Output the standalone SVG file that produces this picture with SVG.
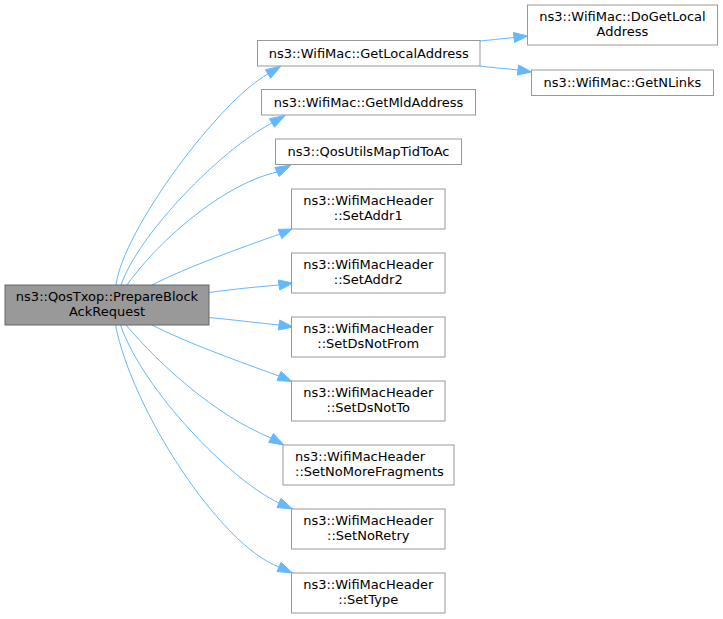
<svg xmlns="http://www.w3.org/2000/svg" width="723" height="619" viewBox="0 0 723 619">
<style>
.n rect{fill:#ffffff;stroke:#999999;stroke-width:1}
.m rect{fill:#999999;stroke:#666666;stroke-width:1}
text{font-family:"DejaVu Sans",sans-serif;font-size:13px;fill:#000000;text-anchor:middle}
.e path{fill:none;stroke:#63b8ff;stroke-width:1}
.e polygon{fill:#63b8ff;stroke:#63b8ff;stroke-width:1}
</style>
<rect x="0" y="0" width="723" height="619" fill="#ffffff"/>
<g id="edges" class="e">
<path d="M116,285 C123,230 220,100 268,74"/><polygon points="281,66 270.6,78.3 265.4,69.8"/>
<path d="M121,285 C138,235 220,150 272,123"/><polygon points="285,115.5 274.5,127.3 269.5,118.7"/>
<path d="M127,285 C155,245 220,185 277,172"/><polygon points="291,165 279.2,176.5 274.8,167.5"/>
<path d="M152,285 C185,268 240,248 280,234"/><polygon points="292,229 281.9,238.6 278.1,229.4"/>
<path d="M209,292.5 C235,289 255,287 279,285"/><polygon points="293,283 279.7,290 278.3,280"/>
<path d="M209,317.5 C235,320 255,322.5 279,325"/><polygon points="293,327 278.3,330 279.7,320"/>
<path d="M152,325 C185,342 240,362 279,376"/><polygon points="292,381.5 277,380.6 281,371.4"/>
<path d="M126,325 C160,365 215,415 271,438"/><polygon points="284,445 268.6,442.4 273.4,433.6"/>
<path d="M120.5,325 C143,390 230,480 279,503"/><polygon points="292.5,509 277,507.6 281,498.4"/>
<path d="M115.5,325 C132,410 220,545 279,567"/><polygon points="292.5,573 277,571.6 281,562.4"/>
<path d="M480,41 C490,40 500,39 514,37.5"/><polygon points="527.5,36 514.55,42.5 513.45,32.5"/>
<path d="M480,66 C490,67.5 505,68.5 518,70"/><polygon points="531.5,72 517.3,75 518.7,65"/>
</g>
<g id="node_main" class="m"><rect x="5" y="285" width="204" height="40"/><text x="107" y="301">ns3::QosTxop::PrepareBlock</text><text x="107" y="316">AckRequest</text></g>
<g id="node_getlocal" class="n"><rect x="257.5" y="40.5" width="222.5" height="25.5"/><text x="368.75" y="57.5">ns3::WifiMac::GetLocalAddress</text></g>
<g id="node_dogetlocal" class="n"><rect x="527.5" y="5" width="190" height="40"/><text x="622.5" y="21">ns3::WifiMac::DoGetLocal</text><text x="622.5" y="36">Address</text></g>
<g id="node_getnlinks" class="n"><rect x="531.5" y="70" width="182" height="25.5"/><text x="622.5" y="87">ns3::WifiMac::GetNLinks</text></g>
<g id="node_getmld" class="n"><rect x="261.5" y="89.5" width="214" height="25.5"/><text x="368.5" y="106.5">ns3::WifiMac::GetMldAddress</text></g>
<g id="node_qosutils" class="n"><rect x="275.5" y="139" width="186" height="25.5"/><text x="368.5" y="156">ns3::QosUtilsMapTidToAc</text></g>
<g id="node_setaddr1" class="n"><rect x="291.5" y="189" width="153.5" height="40"/><text x="368.25" y="205">ns3::WifiMacHeader</text><text x="368.25" y="220">::SetAddr1</text></g>
<g id="node_setaddr2" class="n"><rect x="291.5" y="253" width="153.5" height="40"/><text x="368.25" y="269">ns3::WifiMacHeader</text><text x="368.25" y="284">::SetAddr2</text></g>
<g id="node_setdsnotfrom" class="n"><rect x="291.5" y="317" width="153.5" height="40"/><text x="368.25" y="333">ns3::WifiMacHeader</text><text x="368.25" y="348">::SetDsNotFrom</text></g>
<g id="node_setdsnotto" class="n"><rect x="291.5" y="381" width="153.5" height="40"/><text x="368.25" y="397">ns3::WifiMacHeader</text><text x="368.25" y="412">::SetDsNotTo</text></g>
<g id="node_setnomorefrag" class="n"><rect x="283" y="445" width="171" height="40"/><text x="295" y="461" style="text-anchor:start">ns3::WifiMacHeader</text><text x="295" y="476" style="text-anchor:start">::SetNoMoreFragments</text></g>
<g id="node_setnoretry" class="n"><rect x="291.5" y="509" width="153.5" height="40"/><text x="368.25" y="525">ns3::WifiMacHeader</text><text x="368.25" y="540">::SetNoRetry</text></g>
<g id="node_settype" class="n"><rect x="291.5" y="573" width="153.5" height="40"/><text x="368.25" y="589">ns3::WifiMacHeader</text><text x="368.25" y="604">::SetType</text></g>
</svg>
